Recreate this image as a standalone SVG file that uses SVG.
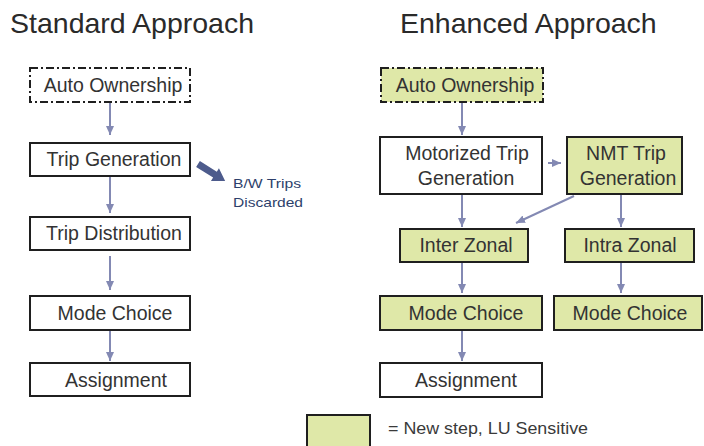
<svg xmlns="http://www.w3.org/2000/svg" width="704" height="446" viewBox="0 0 704 446">
<defs>
<marker id="ah" markerUnits="userSpaceOnUse" markerWidth="10" markerHeight="10" viewBox="0 0 10 10" refX="9" refY="5" orient="auto">
<path d="M0,1 L9,5 L0,9 Z" fill="#8389b3"/>
</marker>
<style>
.bx{fill:#ffffff;stroke:#1f1f1f;stroke-width:2}
.gr{fill:#dfe8a8;stroke:#1f1f1f;stroke-width:2}
.dash{stroke-dasharray:8 3 2 3}
.t{font-family:"Liberation Sans",Arial,sans-serif;font-size:19.5px;fill:#333333;text-anchor:middle}
.title{font-family:"Liberation Sans",Arial,sans-serif;font-size:28.5px;fill:#2a2a2a}
.c{stroke:#8389b3;stroke-width:2;fill:none;marker-end:url(#ah)}
.small{font-family:"Liberation Sans",Arial,sans-serif;font-size:13px;fill:#2d3f6b}
</style>
</defs>
<rect width="704" height="446" fill="#ffffff"/>
<text class="title" x="10" y="33">Standard Approach</text>
<text class="title" x="400" y="33">Enhanced Approach</text>

<g id="connectors">
<line class="c" x1="110" y1="103" x2="110" y2="135"/>
<line class="c" x1="110" y1="177" x2="110" y2="213"/>
<line class="c" x1="110" y1="256" x2="110" y2="290"/>
<line class="c" x1="110" y1="331" x2="110" y2="361"/>
<line class="c" x1="462" y1="103" x2="462" y2="135"/>
<line class="c" x1="548" y1="163" x2="561" y2="163"/>
<line class="c" x1="462" y1="195" x2="462" y2="227"/>
<line class="c" x1="574" y1="196" x2="516" y2="223"/>
<line class="c" x1="621" y1="195" x2="621" y2="227"/>
<line class="c" x1="462" y1="263" x2="462" y2="293"/>
<line class="c" x1="621" y1="263" x2="621" y2="293"/>
<line class="c" x1="462" y1="331" x2="462" y2="361"/>
<path d="M0,-3.5 L20,-3.5 L20,-7.5 L32,0 L20,7.5 L20,3.5 L0,3.5 Z" fill="#4d5b8c" transform="translate(198,164) rotate(32)"/>
</g>

<g id="s-auto"><rect class="bx dash" x="30" y="68" width="160" height="34"/><text class="t" x="113" y="92">Auto Ownership</text></g>
<g id="s-tripgen"><rect class="bx" x="30" y="143" width="160" height="33"/><text class="t" x="114" y="166">Trip Generation</text></g>
<g id="s-discard"><text class="small" x="233" y="188" textLength="68" lengthAdjust="spacingAndGlyphs">B/W Trips</text><text class="small" x="233" y="207" textLength="70" lengthAdjust="spacingAndGlyphs">Discarded</text></g>
<g id="s-tripdist"><rect class="bx" x="30" y="217" width="160" height="33"/><text class="t" x="114" y="240">Trip Distribution</text></g>
<g id="s-mode"><rect class="bx" x="30" y="296" width="160" height="34"/><text class="t" x="115" y="320">Mode Choice</text></g>
<g id="s-assign"><rect class="bx" x="30" y="363" width="160" height="33"/><text class="t" x="116" y="387">Assignment</text></g>

<g id="e-auto"><rect class="gr dash" x="381" y="68" width="162" height="34"/><text class="t" x="465" y="92">Auto Ownership</text></g>
<g id="e-mtg"><rect class="bx" x="380" y="137" width="162" height="57"/><text class="t" x="467" y="160">Motorized Trip</text><text class="t" x="466" y="185">Generation</text></g>
<g id="e-nmt"><rect class="gr" x="567" y="137" width="115" height="57"/><text class="t" x="626" y="160">NMT Trip</text><text class="t" x="628" y="185">Generation</text></g>
<g id="e-inter"><rect class="gr" x="400" y="229" width="128" height="33"/><text class="t" x="466" y="252">Inter Zonal</text></g>
<g id="e-intra"><rect class="gr" x="565" y="229" width="129" height="33"/><text class="t" x="630" y="252">Intra Zonal</text></g>
<g id="e-mode1"><rect class="gr" x="380" y="296" width="162" height="34"/><text class="t" x="466" y="320">Mode Choice</text></g>
<g id="e-mode2"><rect class="gr" x="554" y="296" width="148" height="34"/><text class="t" x="630" y="320">Mode Choice</text></g>
<g id="e-assign"><rect class="bx" x="380" y="363" width="162" height="34"/><text class="t" x="466" y="387">Assignment</text></g>

<g id="legend"><rect class="gr" x="307" y="415" width="63" height="35"/><text x="388" y="434" font-family="Liberation Sans, Arial, sans-serif" font-size="17" fill="#3a3a3a" textLength="200" lengthAdjust="spacingAndGlyphs">= New step, LU Sensitive</text></g>
</svg>
